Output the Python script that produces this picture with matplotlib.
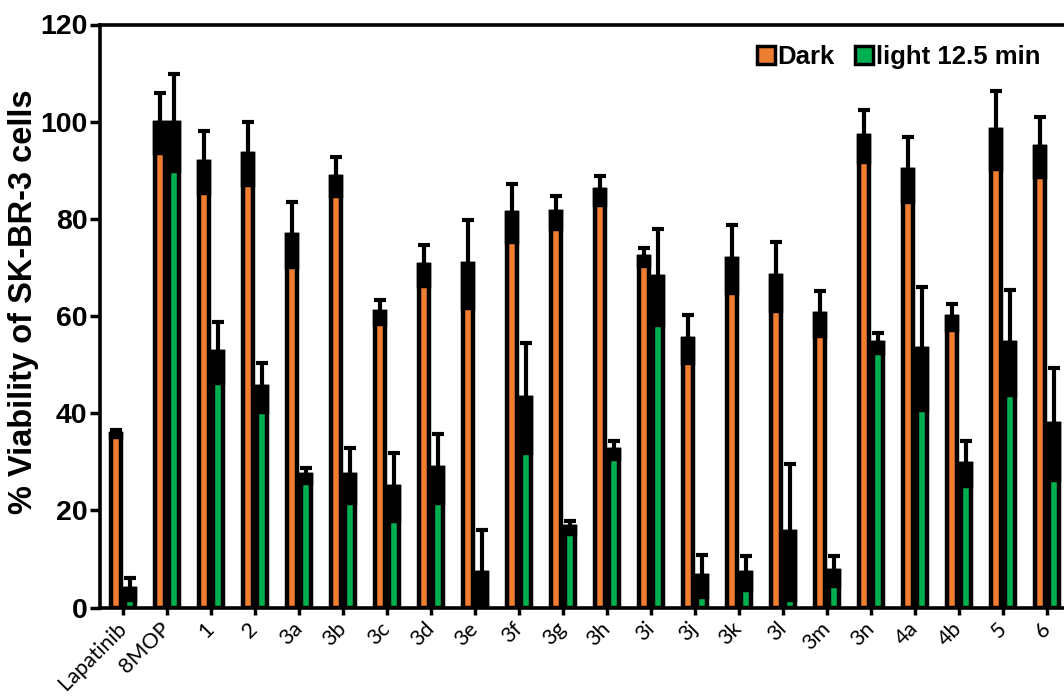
import numpy as np
import matplotlib
matplotlib.use("Agg")
import matplotlib.pyplot as plt
from matplotlib.patches import Patch

labels = ["Lapatinib", "8MOP", "1", "2", "3a", "3b", "3c", "3d", "3e", "3f", "3g",
          "3h", "3i", "3j", "3k", "3l", "3m", "3n", "4a", "4b", "5", "6"]
dark = [35.8, 99.8, 91.7, 93.4, 76.7, 88.7, 60.8, 70.4, 70.7, 81.2, 81.4,
        85.9, 72.1, 55.3, 71.8, 68.2, 60.5, 97.0, 90.1, 59.8, 98.3, 94.8]
dark_err = [0.8, 6.2, 6.3, 6.5, 6.7, 4.0, 2.5, 4.3, 9.0, 6.0, 3.4,
            3.0, 1.8, 4.9, 7.0, 7.1, 4.6, 5.4, 6.7, 2.6, 8.0, 6.1]
green = [3.8, 99.8, 52.5, 45.3, 27.2, 27.2, 24.9, 28.7, 7.2, 43.1, 16.5,
         32.4, 68.0, 6.5, 7.2, 15.5, 7.5, 54.4, 53.3, 29.6, 54.5, 37.8]
green_err = [2.3, 10.0, 6.3, 5.0, 1.6, 5.7, 7.0, 7.1, 8.8, 11.3, 1.4,
             1.9, 9.9, 4.3, 3.5, 14.0, 3.0, 2.0, 12.6, 4.6, 10.8, 11.5]

orange = "#ED7D31"
green_c = "#00B050"

fig = plt.figure(figsize=(10.64, 6.96), dpi=100)
# axes runs a little past the right edge, as in the cropped original
ax = fig.add_axes([100 / 1064, 88.5 / 696, 969 / 1064, 583 / 696])

x = np.arange(len(labels))
w = 0.216
off = 0.159
lw = 3.2

for xs, vals, errs, col in [(x - off, dark, dark_err, orange),
                            (x + off, green, green_err, green_c)]:
    vals = np.array(vals)
    errs = np.array(errs)
    ax.errorbar(xs, vals, yerr=[np.zeros_like(errs), errs], fmt="none",
                ecolor="black", elinewidth=3, capsize=4.3, capthick=3, zorder=1)
    ax.bar(xs, vals, w, color=col, edgecolor="black", linewidth=lw, zorder=2)
    # lower half of the error bar shows up as a solid black block on the bar
    ax.bar(xs, errs, w, bottom=vals - errs, color="black", edgecolor="black",
           linewidth=lw, zorder=3)

ax.set_xlim(-0.52, 21.5)
ax.set_ylim(0, 120)
ax.set_yticks(range(0, 121, 20))
ax.set_xticks(x)
ax.set_xticklabels(labels, rotation=45, ha="right", va="center",
                   rotation_mode="anchor", family="Lato", fontsize=15.5)
for t in ax.get_yticklabels():
    t.set_family("Liberation Sans")
    t.set_fontweight("bold")
    t.set_fontsize(20.5)
ax.tick_params(axis="y", direction="out", length=7, width=2.5, pad=2)
ax.tick_params(axis="x", direction="out", length=5, width=2.5, pad=8)
for s in ax.spines.values():
    s.set_linewidth(2.6)
ax.spines["right"].set_visible(False)

ax.set_ylabel("% Viability of SK-BR-3 cells", family="Liberation Sans",
              fontweight="bold", fontsize=23.5)
ax.yaxis.set_label_coords(-0.063, 0.524)

handles = [Patch(facecolor=orange, edgecolor="black", linewidth=2.5),
           Patch(facecolor=green_c, edgecolor="black", linewidth=2.5)]
ax.legend(handles, ["Dark", "light 12.5 min"], loc="upper right",
          bbox_to_anchor=(1040 / 1064, 1 - 45 / 696), bbox_transform=fig.transFigure,
          ncol=2, frameon=False, handlelength=0.7, handleheight=0.7,
          handletextpad=0.1, columnspacing=0.8, borderaxespad=0, borderpad=0,
          prop={"family": "Liberation Sans", "weight": "bold", "size": 18.5})

fig.savefig("out.png", dpi=100)
